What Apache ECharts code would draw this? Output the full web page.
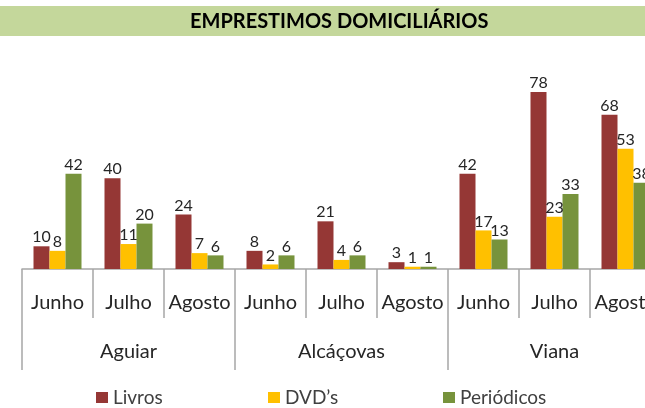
<!DOCTYPE html>
<html>
<head>
<meta charset="utf-8">
<script src="https://cdn.jsdelivr.net/npm/echarts@6/dist/echarts.min.js"></script>
<style>
  html, body { margin: 0; padding: 0; background: #fff; }
  #chart { width: 645px; height: 408px; }
</style>
</head>
<body>
<div id="chart"></div>
<script>
// dados
var meses = ['Junho', 'Julho', 'Agosto', 'Junho', 'Julho', 'Agosto', 'Junho', 'Julho', 'Agosto'];
var locais = ['Aguiar', 'Alcáçovas', 'Viana'];
var livros = [10, 40, 24, 8, 21, 3, 42, 78, 68];
var dvds = [8, 11, 7, 2, 4, 1, 17, 23, 53];
var periodicos = [42, 20, 6, 6, 6, 1, 13, 33, 38];

var cores = ['#953735', '#ffc000', '#77933c'];
var fonte = 'Lato';
var corEixo = '#a6a6a6';

var myChart = echarts.init(document.getElementById('chart'));

function serie(nome, dados, cor) {
    return {
        name: nome,
        type: 'bar',
        data: dados,
        barWidth: 16,
        barGap: '0%',
        itemStyle: { color: cor },
        label: {
            show: true,
            position: 'top',
            distance: 1,
            color: '#262626',
            fontFamily: fonte,
            fontSize: 16
        }
    };
}

function legenda(nome, x) {
    return {
        data: [nome],
        left: x,
        top: 383,
        icon: 'rect',
        itemWidth: 12,
        itemHeight: 11,
        itemGap: 0,
        selectedMode: false,
        textStyle: { color: '#404040', fontFamily: fonte, fontSize: 19 }
    };
}

var option = {
    animation: false,
    graphic: [{
        type: 'rect',
        z: -10,
        shape: { x: 0, y: 6, width: 645, height: 30 },
        style: { fill: '#c4d79b' }
    }],
    title: {
        text: 'EMPRESTIMOS DOMICILIÁRIOS',
        left: 185,
        top: 7,
        textStyle: { color: '#000', fontFamily: fonte, fontWeight: 'bold', fontSize: 20 }
    },
    legend: [legenda('Livros', 91), legenda('DVD\u2019s', 263), legenda('Periódicos', 438)],
    grid: { left: 22, top: 42, width: 639, height: 227, outerBoundsMode: 'none', containLabel: false },
    xAxis: [{
        type: 'category',
        data: meses,
        position: 'bottom',
        axisLine: { lineStyle: { color: corEixo, width: 1.5 } },
        axisTick: { show: true, length: 49, lineStyle: { color: corEixo, width: 1.5 } },
        axisLabel: { margin: 24, color: '#262626', fontFamily: fonte, fontSize: 20, interval: 0 }
    }, {
        type: 'category',
        data: locais,
        position: 'bottom',
        axisLine: { show: false },
        axisTick: { show: true, length: 101, lineStyle: { color: corEixo, width: 1.5 } },
        axisLabel: { margin: 73, color: '#262626', fontFamily: fonte, fontSize: 20 }
    }],
    yAxis: {
        type: 'value',
        min: 0,
        max: 100,
        show: false
    },
    series: [
        serie('Livros', livros, cores[0]),
        serie('DVD\u2019s', dvds, cores[1]),
        serie('Periódicos', periodicos, cores[2])
    ]
};
myChart.setOption(option);
</script>
</body>
</html>
